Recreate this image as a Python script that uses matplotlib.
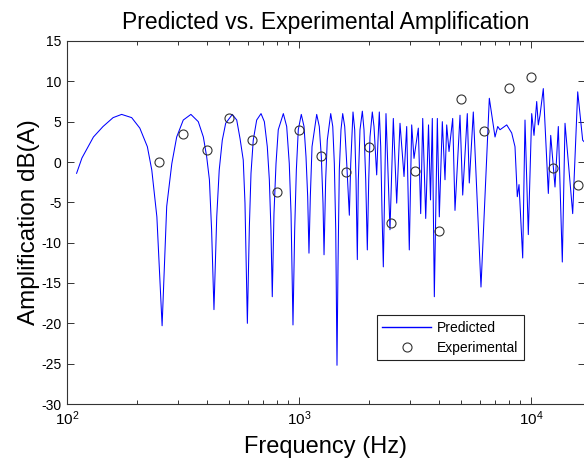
import matplotlib
matplotlib.use("Agg")
import matplotlib.pyplot as plt
from matplotlib.ticker import FixedLocator, LogLocator

plt.rcParams['font.family'] = ['Liberation Sans', 'DejaVu Sans']
plt.rcParams['mathtext.fontset'] = 'custom'
plt.rcParams['mathtext.rm'] = 'Liberation Sans'
plt.rcParams['axes.unicode_minus'] = False

# Predicted amplification curve (Hz, dB(A))
pred_freq = [110, 116, 130, 143, 158, 172, 190, 206, 222, 232, 244, 257, 269, 283, 297,
             317, 342, 368, 387, 400, 411, 420, 430, 442, 453, 467, 483, 516, 539, 557,
             575, 585, 599, 611, 621, 635, 657, 686, 709, 730, 745, 757, 767, 780, 796,
             814, 856, 885, 908, 924, 942, 958, 974, 993, 1023, 1051, 1072, 1090, 1104, 1119,
             1138, 1192, 1223, 1248, 1269, 1282, 1303, 1324, 1370, 1398, 1420, 1440, 1458, 1473, 1492,
             1517, 1543, 1574, 1606, 1632, 1648, 1671, 1709, 1738, 1761, 1784, 1802, 1832, 1875, 1906,
             1939, 1970, 1998, 2023, 2070, 2105, 2141, 2162, 2190, 2219, 2250, 2280, 2309, 2341, 2371,
             2467, 2550, 2637, 2725, 2836, 2912, 2988, 3060, 3131, 3268, 3346, 3414, 3517, 3616, 3688,
             3755, 3831, 3947, 4025, 4147, 4259, 4331, 4432, 4597, 4703, 4943, 5077, 5314, 5420, 5640,
             6087, 6612, 6997, 7187, 7352, 7859, 8256, 8531, 8729, 8879, 9209, 9422, 9736, 10070, 10302,
             10582, 10752, 10935, 11298, 11876, 12161, 12689, 13114, 13643, 14016, 15125, 15897, 16700, 17100]
pred_db = [-1.4, 0.5, 3.1, 4.4, 5.5, 5.9, 5.5, 4.2, 1.9, -1.0, -6.8, -20.3, -5.5, -0.2, 3.1,
           5.2, 5.9, 5.0, 3.1, 0.65, -2.2, -8.4, -18.3, -6.8, -1.0, 2.7, 4.8, 5.9, 5.2, 2.9,
           0.25, -5.1, -20.0, -8.0, -1.4, 2.7, 5.2, 6.0, 5.0, 1.9, -2.2, -8.4, -16.7, -6.4, -0.2,
           4.0, 6.0, 4.4, -0.2, -6.4, -20.2, -8.4, -1.0, 4.0, 5.9, 4.4, 0.65, -4.3, -11.3, -4.3,
           1.9, 5.9, 4.4, 0.65, -5.1, -11.5, -2.2, 2.7, 6.0, 4.4, -0.2, -8.4, -25.2, -12.6, -1.0,
           4.0, 6.0, 4.4, -0.2, -4.3, -6.6, -0.2, 6.2, 4.0, -2.2, -12.1, -2.2, 4.0, 6.3, 4.0,
           -2.2, -10.9, -2.2, 3.1, 6.2, 4.4, 0.65, -1.6, 2.7, 6.2, 1.9, -6.4, -13.0, -3.5, 6.0,
           -8.4, 5.4, -5.1, 4.8, -1.8, 4.4, -10.9, 4.6, 0.45, 4.2, -6.4, 5.4, -7.0, 4.6, -4.7,
           5.4, -16.7, 5.4, -6.8, 5.0, -2.2, 4.6, 1.3, 5.4, -6.0, 5.8, -4.1, 6.0, -2.6, 6.2,
           -15.5, 7.9, 3.1, 4.4, 4.0, 4.6, 3.6, 1.9, -4.3, -2.8, -11.9, 5.2, -9.0, 6.0, 3.3,
           7.5, 4.6, 5.8, 9.1, -3.9, 3.3, -3.1, 4.4, -12.4, 4.8, -6.4, 8.7, 2.7, 2.4]

# Experimental third-octave values
exp_freq = [250, 315, 400, 500, 630, 800, 1000, 1250, 1600, 2000, 2500, 3150, 4000,
            5000, 6300, 8000, 10000, 12500, 16000]
exp_db = [0.0, 3.5, 1.5, 5.4, 2.7, -3.75, 3.97, 0.8, -1.28, 1.86, -7.56, -1.16, -8.6,
          7.85, 3.84, 9.17, 10.57, -0.7, -2.8]

y_ticks = [-30, -25, -20, -15, -10, -5, 0, 5, 10, 15]

fig = plt.figure(figsize=(5.84, 4.61), dpi=100)
ax = fig.add_axes([67 / 584, 57 / 461, 518 / 584, 363 / 461])

ax.plot(pred_freq, pred_db, color='#0000ff', lw=0.75, label='Predicted')
ax.plot(exp_freq, exp_db, 'o', ms=6.5, mfc='none', mec='#333333', mew=0.8,
        label='Experimental')

ax.set_xscale('log')
ax.set_xlim(100, 17090)
ax.set_ylim(-30, 15)
ax.yaxis.set_major_locator(FixedLocator(y_ticks))
ax.xaxis.set_major_locator(LogLocator(base=10, numticks=10))
ax.xaxis.set_minor_locator(LogLocator(base=10, subs=range(2, 10), numticks=20))

ax.tick_params(which='both', direction='in', top=True, right=True, color='#333333',
               labelsize=10, labelcolor='black')
ax.tick_params(axis='x', which='major', labelsize=11)
ax.tick_params(which='major', length=5, width=0.7, pad=4)
ax.tick_params(which='minor', length=3, width=0.7)
for s in ax.spines.values():
    s.set_color('#333333')
    s.set_linewidth(0.8)

ax.set_title('Predicted vs. Experimental Amplification', fontsize=16.5, pad=9)
ax.set_xlabel('Frequency (Hz)', fontsize=17, labelpad=6)
ax.set_ylabel('Amplification dB(A)', fontsize=17.5, labelpad=1)

leg = ax.legend(loc='lower left', bbox_to_anchor=(0.598, 0.121), fontsize=10,
                fancybox=False, framealpha=1, edgecolor='#222222', numpoints=1,
                handlelength=3.5, handletextpad=0.45, borderpad=0.4, labelspacing=0.4,
                borderaxespad=0)
leg.get_frame().set_linewidth(0.8)
leg.get_lines()[0].set_linewidth(1.0)

fig.savefig('out.png', dpi=100)
